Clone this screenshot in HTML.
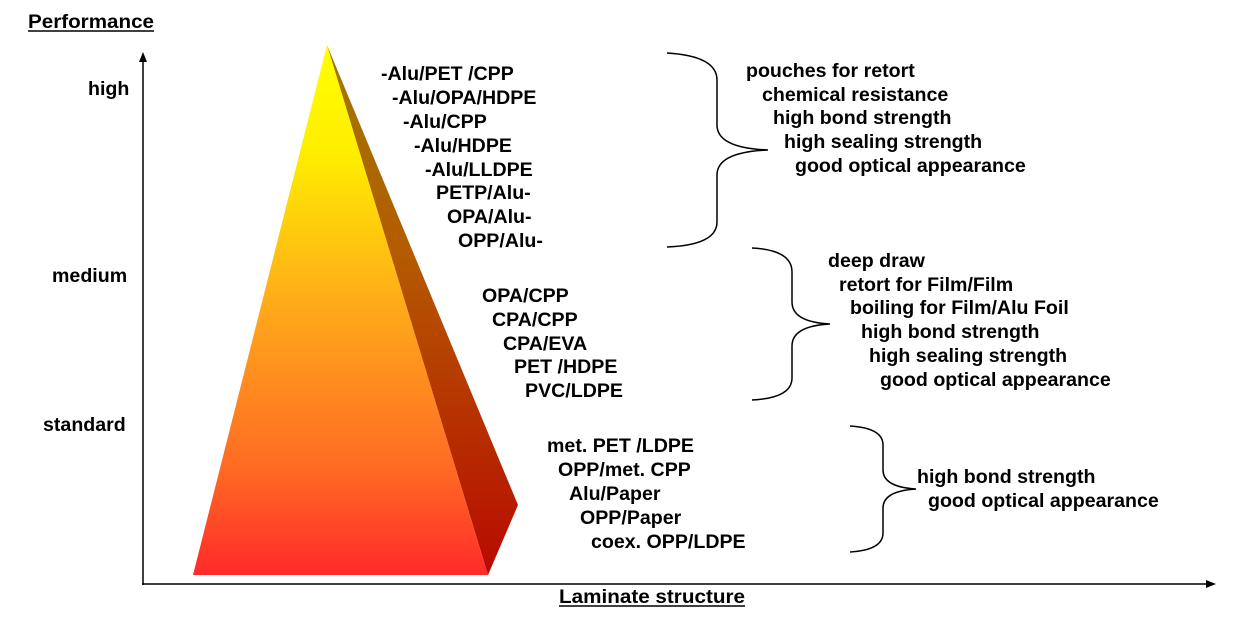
<!DOCTYPE html>
<html><head><meta charset="utf-8"><style>
body{margin:0;background:#fff;}
svg text{font-family:"Liberation Sans",Arial,sans-serif;font-weight:bold;font-size:19.6px;fill:#000;}
</style></head><body>
<svg width="1252" height="625" viewBox="0 0 1252 625" xmlns="http://www.w3.org/2000/svg">
<defs>
<linearGradient id="f" gradientUnits="userSpaceOnUse" x1="0" y1="45" x2="0" y2="575">
<stop offset="0" stop-color="#ffff00"/><stop offset="0.2" stop-color="#ffee00"/><stop offset="0.5" stop-color="#ffa81a"/><stop offset="0.8" stop-color="#ff6a24"/><stop offset="1" stop-color="#ff2a2a"/>
</linearGradient>
<linearGradient id="s" gradientUnits="userSpaceOnUse" x1="0" y1="45" x2="0" y2="575">
<stop offset="0" stop-color="#a07a00"/><stop offset="0.4" stop-color="#b45a00"/><stop offset="1" stop-color="#b80a00"/>
</linearGradient>
</defs>
<polygon points="327,45 518,505 488,575" fill="url(#s)"/>
<polygon points="327,45 488,575 193,575" fill="url(#f)"/>
<line x1="143" y1="585" x2="143" y2="58" stroke="#000" stroke-width="1.5"/>
<polygon points="143,52 139,62 147,62" fill="#000"/>
<line x1="142" y1="584" x2="1210" y2="584" stroke="#000" stroke-width="1.5"/>
<polygon points="1216,584 1206,580 1206,588" fill="#000"/>
<text x="28" y="28" textLength="126" lengthAdjust="spacingAndGlyphs">Performance</text>
<line x1="28" y1="31" x2="154" y2="31" stroke="#000" stroke-width="1.5"/>
<text x="559" y="603" textLength="186" lengthAdjust="spacingAndGlyphs">Laminate structure</text>
<line x1="559" y1="606" x2="745" y2="606" stroke="#000" stroke-width="1.5"/>
<text x="88" y="95">high</text>
<text x="52" y="282">medium</text>
<text x="43" y="431">standard</text>
<text x="381" y="80">-Alu/PET /CPP</text>
<text x="392" y="104">-Alu/OPA/HDPE</text>
<text x="403" y="128">-Alu/CPP</text>
<text x="414" y="152">-Alu/HDPE</text>
<text x="425" y="176">-Alu/LLDPE</text>
<text x="436" y="199">PETP/Alu-</text>
<text x="447" y="223">OPA/Alu-</text>
<text x="458" y="247">OPP/Alu-</text>
<text x="482" y="302">OPA/CPP</text>
<text x="492" y="326">CPA/CPP</text>
<text x="503" y="350">CPA/EVA</text>
<text x="514" y="373">PET /HDPE</text>
<text x="525" y="397">PVC/LDPE</text>
<text x="547" y="452">met. PET /LDPE</text>
<text x="558" y="476">OPP/met. CPP</text>
<text x="569" y="500">Alu/Paper</text>
<text x="580" y="524">OPP/Paper</text>
<text x="591" y="548">coex. OPP/LDPE</text>
<text x="746" y="77">pouches for retort</text>
<text x="762" y="101">chemical resistance</text>
<text x="773" y="124">high bond strength</text>
<text x="784" y="148">high sealing strength</text>
<text x="795" y="172">good optical appearance</text>
<text x="828" y="267">deep draw</text>
<text x="839" y="291">retort for Film/Film</text>
<text x="850" y="314">boiling for Film/Alu Foil</text>
<text x="861" y="338">high bond strength</text>
<text x="869" y="362">high sealing strength</text>
<text x="880" y="386">good optical appearance</text>
<text x="917" y="483">high bond strength</text>
<text x="928" y="507">good optical appearance</text>
<g fill="none" stroke="#000" stroke-width="1.5">
<path d="M667,53 Q717,56 717,80 L717,125 Q717,148 768,150 Q717,152 717,175 L717,222 Q717,245 667,247"/>
<path d="M752,248 Q792,250 792,272 L792,302 Q792,322 830,324 Q792,326 792,346 L792,378 Q792,398 752,400"/>
<path d="M850,426 Q883,428 883,445 L883,470 Q883,487 916,489 Q883,491 883,508 L883,533 Q883,550 850,552"/>
</g>
</svg>
</body></html>
